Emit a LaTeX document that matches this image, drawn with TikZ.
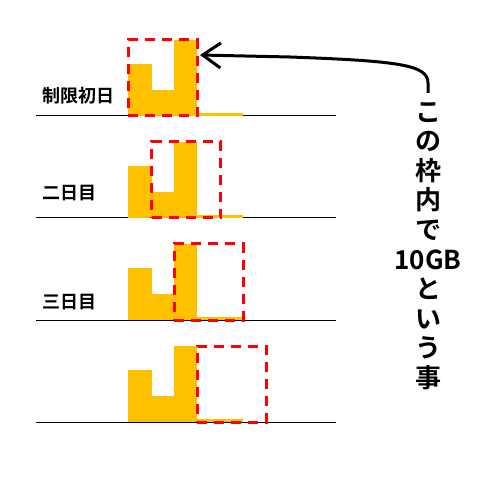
\documentclass[tikz,border=0pt]{standalone}
\usepackage{fontspec}
\usetikzlibrary{arrows.meta}
\newfontfamily\jp{Noto Sans CJK JP}[BoldFont={Noto Sans CJK JP Bold}]
\definecolor{barorange}{RGB}{255,192,0}
\definecolor{framered}{RGB}{255,0,0}
\tikzset{
  base/.style={draw=black, line width=1pt},
  bar/.style={fill=barorange, draw=none},
  redbox/.style={draw=framered, line width=3pt, dash pattern=on 10pt off 7pt,
    minimum width=69pt, minimum height=76pt, inner sep=0pt},
  daylabel/.style={font=\jp\bfseries\fontsize{18}{20}\selectfont, anchor=west, inner sep=0pt},
  vtext/.style={font=\jp\bfseries\fontsize{26}{29.6}\selectfont, align=center, inner sep=0pt},
  callout/.style={draw=black, line width=3pt, -{Straight Barb[length=18pt,width=25pt,line width=3pt]}}
}
\begin{document}
\begin{tikzpicture}[x=1pt,y=-1pt]
\useasboundingbox[fill=white] (0,0) rectangle (498,497);
% panels
\foreach \b in {116,218,320,422}{
  \draw[base] (36,\b) -- (336,\b);
  \fill[bar] (128,\b) rectangle (152,\b-52);
  \fill[bar] (152,\b) rectangle (174,\b-26);
  \fill[bar] (174,\b) rectangle (197,\b-76);
  \fill[bar] (197,\b) rectangle (243,\b-3);
}
\node[redbox] (f1) at (162.5,78) {};
\node[redbox] (f2) at (186,180) {};
\node[redbox] (f3) at (208.5,282) {};
\node[redbox] (f4) at (231.5,384) {};
\node[daylabel] (d1) at (42,96) {制限初日};
\node[daylabel] (d2) at (42,193) {二日目};
\node[daylabel] (d3) at (42,302) {三日目};
\node[vtext] (vt) at (428,246) {こ\\の\\枠\\内\\で\\10GB\\と\\い\\う\\事};
\coordinate (tail) at (428,93);
\coordinate (tip) at (200,55);
\draw[callout] (tail) -- (428,83) .. controls (428,65) and (400,61) .. (290,57) -- (tip);
\end{tikzpicture}
\end{document}
